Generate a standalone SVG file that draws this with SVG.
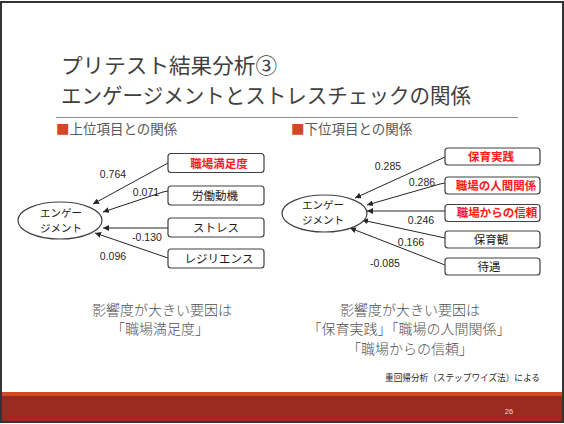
<svg xmlns="http://www.w3.org/2000/svg" width="564" height="424" viewBox="0 0 564 424">
<style>
.jp{font-family:"Noto Sans CJK JP","Noto Sans",sans-serif}
.title{font-size:21px;fill:#404040}
.sub{font-size:13.5px;fill:#595959}
.box{fill:#fff;stroke:#404040;stroke-width:1.2}
.ell{fill:#fff;stroke:#404040;stroke-width:1.2}
.bt{font-size:11.5px;fill:#1a1a1a;text-anchor:middle;font-weight:400}
.red{fill:#ff1a1a;font-weight:bold}
.et{font-size:10.5px;fill:#1a1a1a;text-anchor:middle}
.num{font-family:"Liberation Sans",Arial,sans-serif;font-size:10.5px;fill:#262626;text-anchor:middle}
.con line,.con polyline{stroke:#262626;stroke-width:1;fill:none;marker-end:url(#ah)}
.bot{font-size:14px;fill:#505050;text-anchor:middle;font-weight:300}
</style>
<defs>
<marker id="ah" viewBox="0 0 10 10" refX="10" refY="5" markerWidth="6" markerHeight="6" markerUnits="userSpaceOnUse" orient="auto">
<path d="M0,0 L10,5 L0,10 z" fill="#262626"/>
</marker>
</defs>
<rect x="0" y="0" width="564" height="424" fill="#fff"/>
<!-- footer -->
<rect x="1" y="392" width="562" height="4" fill="#D24A22"/>
<rect x="1" y="396" width="562" height="26" fill="#9B2B20"/>
<text x="509" y="414" font-family="Liberation Sans,Arial,sans-serif" font-size="7.5" fill="#f3d9cc" text-anchor="middle">26</text>
<rect x="1" y="2" width="562" height="420" fill="none" stroke="#333" stroke-width="2"/>
<!-- title -->
<text class="jp title" x="61" y="73" textLength="216" lengthAdjust="spacingAndGlyphs">プリテスト結果分析③</text>
<text class="jp title" x="61" y="103" textLength="410" lengthAdjust="spacingAndGlyphs">エンゲージメントとストレスチェックの関係</text>
<line x1="56" y1="117.5" x2="518" y2="117.5" stroke="#8c8c8c" stroke-width="1"/>
<text class="jp sub" x="56" y="134"><tspan fill="#D24726">■</tspan>上位項目との関係</text>
<text class="jp sub" x="291" y="134"><tspan fill="#D24726">■</tspan>下位項目との関係</text>
<!-- connectors -->
<g id="connectors" class="con">
<line x1="168" y1="163" x2="93" y2="204"/>
<polyline points="168,191 163,192 103,212"/>
<line x1="168" y1="228" x2="103" y2="228"/>
<line x1="168" y1="258" x2="95" y2="233"/>
<line x1="445" y1="157" x2="355" y2="198"/>
<polyline points="445,183 440,184 367,205"/>
<line x1="445" y1="211" x2="367" y2="211"/>
<line x1="445" y1="238" x2="362" y2="220"/>
<line x1="445" y1="265" x2="350" y2="228"/>
</g>
<g id="labels">
<text class="num" x="113" y="178">0.764</text>
<text class="num" x="146" y="196">0.071</text>
<text class="num" x="147" y="241">-0.130</text>
<text class="num" x="113" y="260">0.096</text>
<text class="num" x="388" y="170">0.285</text>
<text class="num" x="422" y="186">0.286</text>
<text class="num" x="421" y="224">0.246</text>
<text class="num" x="411" y="246">0.166</text>
<text class="num" x="385" y="267">-0.085</text>
</g>
<!-- left nodes -->
<g id="engL"><ellipse class="ell" cx="60" cy="220.5" rx="42" ry="18.5"/>
<text class="jp et" x="61" y="216.5">エンゲー</text><text class="jp et" x="61" y="232">ジメント</text></g>
<g id="L1"><rect class="box" x="168" y="153.5" width="96" height="19" rx="3"/><text class="jp bt red" x="219" y="167.5">職場満足度</text></g>
<g id="L2"><rect class="box" x="168" y="186" width="96" height="19" rx="3"/><text class="jp bt" x="215" y="200">労働動機</text></g>
<g id="L3"><rect class="box" x="168" y="218" width="96" height="19" rx="3"/><text class="jp bt" x="216" y="232">ストレス</text></g>
<g id="L4"><rect class="box" x="168" y="249" width="96" height="19" rx="3"/><text class="jp bt" x="219" y="263">レジリエンス</text></g>
<!-- right nodes -->
<g id="engR"><ellipse class="ell" cx="324.5" cy="213.5" rx="42.5" ry="18.5"/>
<text class="jp et" x="323" y="209">エンゲー</text><text class="jp et" x="323" y="224">ジメント</text></g>
<g id="R1"><rect class="box" x="445" y="148" width="95" height="17" rx="3"/><text class="jp bt red" x="491" y="160.5">保育実践</text></g>
<g id="R2"><rect class="box" x="445" y="177" width="95" height="17" rx="3"/><text class="jp bt red" x="496" y="189.5">職場の人間関係</text></g>
<g id="R3"><rect class="box" x="445" y="204.5" width="95" height="17" rx="3"/><text class="jp bt red" x="497" y="217">職場からの信頼</text></g>
<g id="R4"><rect class="box" x="445" y="231" width="95" height="17" rx="3"/><text class="jp bt" x="491" y="243.5">保育観</text></g>
<g id="R5"><rect class="box" x="445" y="258" width="95" height="17" rx="3"/><text class="jp bt" x="489" y="270.5">待遇</text></g>
<!-- bottom texts -->
<text class="jp bot" x="162" y="315">影響度が大きい要因は</text>
<text class="jp bot" x="160" y="334">「職場満足度」</text>
<text class="jp bot" x="410" y="315">影響度が大きい要因は</text>
<text class="jp bot" x="409" y="334">「保育実践」「職場の人間関係」</text>
<text class="jp bot" x="410" y="354">「職場からの信頼」</text>
<text class="jp" x="385" y="381" font-size="9" fill="#262626" textLength="155" lengthAdjust="spacingAndGlyphs">重回帰分析（ステップワイズ法）による</text>
</svg>
